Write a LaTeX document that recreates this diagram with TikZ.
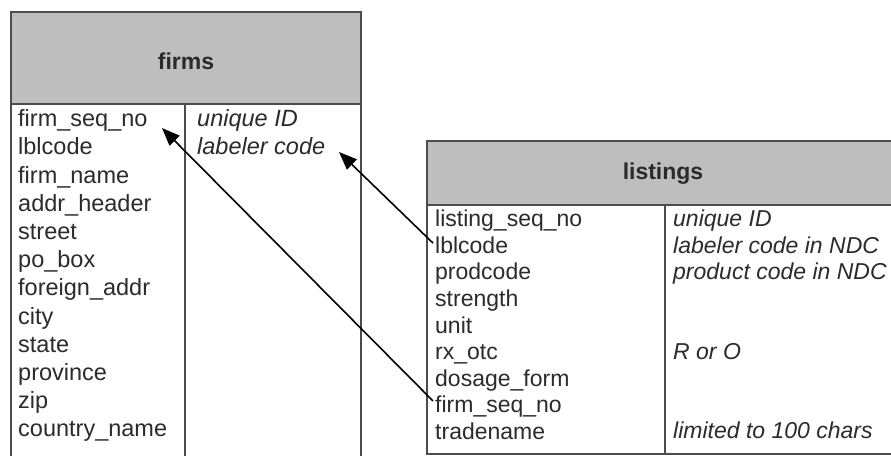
\documentclass[tikz,border=0pt]{standalone}
\usepackage{fontspec}
\setmainfont{Liberation Sans}
\usetikzlibrary{arrows.meta}
\definecolor{txt}{HTML}{2B2B2B}
\definecolor{hdr}{HTML}{BEBEBE}
\definecolor{bord}{HTML}{4C4C4C}
\begin{document}
\begin{tikzpicture}[x=1pt,y=-1pt,
  fldF/.style={anchor=base west, inner sep=2pt, text=txt, font=\fontsize{23.5}{28}\selectfont},
  fldL/.style={anchor=base west, inner sep=2pt, text=txt, font=\fontsize{23}{27}\selectfont},
  dscF/.style={fldF, font=\fontsize{23.5}{28}\selectfont\itshape},
  dscL/.style={fldL, font=\fontsize{23}{27}\selectfont\itshape},
  ttl/.style={inner sep=0pt, text=txt, font=\fontsize{23}{27}\selectfont\bfseries},
  hdrbox/.style={fill=hdr, draw=bord, line width=1.8pt},
  bodybox/.style={draw=bord, line width=1.8pt},
  arr/.style={draw=black, line width=1.6pt, -{Triangle[length=18pt,width=14pt]}}
]
\useasboundingbox (0,0) rectangle (891,455);
\clip (0,0) rectangle (891,455);
\fill[white] (0,0) rectangle (891,455);

% firms table
\path[hdrbox] (11,12) rectangle (361,104);
\path[bodybox] (11,104) rectangle (361,480);
\path[bodybox] (185,104) -- (185,480);
\node[ttl] (ftitle) at (186,61) {firms};

% listings table
\path[hdrbox] (427,141) rectangle (910,205);
\path[bodybox] (427,205) rectangle (910,454);
\path[bodybox] (665,205) -- (665,454);
\node[ttl] (ltitle) at (663,174) {listings};

% firms fields
\foreach \t [count=\i from 0] in {firm\_seq\_no, lblcode, firm\_name, addr\_header, street, po\_box, foreign\_addr, city, state, province, zip, country\_name}
  \node[fldF] (f\i) at (16, 126.7+28.2*\i) {\t};
\node[dscF] (fd0) at (195,126.7) {unique ID};
\node[dscF] (fd1) at (195,154.9) {labeler code};

% listings fields
\foreach \t [count=\i from 0] in {listing\_seq\_no, lblcode, prodcode, strength, unit, rx\_otc, dosage\_form, firm\_seq\_no, tradename}
  \node[fldL] (l\i) at (433, 226.7+26.6*\i) {\t};
\node[dscL] (ld0) at (671,226.7) {unique ID};
\node[dscL] (ld1) at (671,253.3) {labeler code in NDC};
\node[dscL] (ld2) at (671,279.9) {product code in NDC};
\node[dscL] (ld5) at (671,359.7) {R or O};
\node[dscL] (ld8) at (671,438.9) {limited to 100 chars};

% connectors
\coordinate (t1) at (339,152);
\coordinate (t2) at (162,128);
\draw[arr] ([yshift=2pt]l1.west) -- (t1);
\draw[arr] ([yshift=6pt]l7.west) -- (t2);
\end{tikzpicture}
\end{document}
